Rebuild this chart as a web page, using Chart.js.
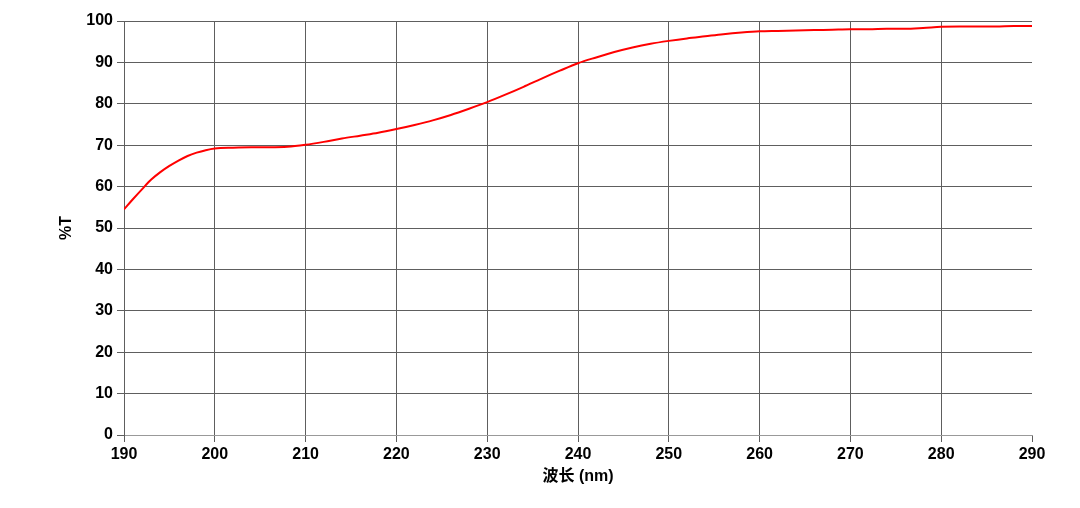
<!DOCTYPE html>
<html>
<head>
<meta charset="utf-8">
<script src="https://cdn.jsdelivr.net/npm/chart.js@4"></script>
<style>
html,body{margin:0;padding:0;background:#fff;}
#wrap{width:1080px;height:508px;position:relative;}
</style>
</head>
<body>
<div id="wrap"><canvas id="c" width="1080" height="508"></canvas></div>
<script>
const wavelengths = [190,191,192,193,194,195,196,197,198,199,200,202,204,206,208,210,212,214,216,218,220,222,224,226,228,230,232,234,236,238,240,242,244,246,248,250,252,254,256,258,260,262,264,266,268,270,272,274,276,278,280,282,284,286,288,290];
const transmittance = [54.5,57.0,59.4,61.7,63.5,65.0,66.3,67.4,68.2,68.8,69.2,69.4,69.5,69.5,69.6,70.1,70.8,71.6,72.3,73.0,73.9,74.9,76.0,77.3,78.8,80.4,82.2,84.1,86.1,88.0,89.8,91.2,92.5,93.6,94.5,95.2,95.8,96.3,96.8,97.2,97.5,97.6,97.7,97.8,97.9,98.0,98.0,98.1,98.1,98.3,98.6,98.7,98.7,98.7,98.8,98.8];
const xTitle = '波长 (nm)';
const yTitle = '%T';

const points = wavelengths.map((w,i)=>({x:w,y:transmittance[i]}));
const fontFam = '"Liberation Sans", Arial, "Noto Sans CJK SC", sans-serif';
const gridCol = '#5e5e5e';

new Chart(document.getElementById('c'), {
  type: 'line',
  data: { datasets: [{ data: points, borderColor: '#ff0000', borderWidth: 2, pointRadius: 0, cubicInterpolationMode: 'monotone', fill: false }] },
  options: {
    responsive: false, animation: false,
    layout: { padding: { left: 53, right: 48, top: 21, bottom: 18 } },
    plugins: { legend: { display: false }, tooltip: { enabled: false } },
    scales: {
      x: {
        type: 'linear', min: 190, max: 290,
        ticks: { stepSize: 10, color: '#000', padding: 3, font: { family: fontFam, size: 16, weight: 'bold' } },
        grid: { color: (c)=> (c.tick && c.tick.value === 290) ? 'rgba(0,0,0,0)' : gridCol, tickColor: gridCol, tickLength: 7, lineWidth: 1 },
        border: { display: true, color: '#999' },
        title: { display: true, text: xTitle, color: '#000', padding: { top: 0, bottom: 4 }, font: { family: fontFam, size: 16, weight: 'bold' } },
        afterFit: (s)=>{ s.height = 55; }
      },
      y: {
        min: 0, max: 100,
        ticks: { stepSize: 10, color: '#000', padding: 4, font: { family: fontFam, size: 16, weight: 'bold' } },
        grid: { color: gridCol, tickColor: gridCol, tickLength: 7, lineWidth: 1 },
        border: { display: true, color: gridCol },
        title: { display: true, text: yTitle, color: '#000', padding: { top: 4, bottom: 4 }, font: { family: fontFam, size: 16, weight: 'bold' } },
        afterFit: (s)=>{ s.width = 71; }
      }
    }
  }
});
</script>
</body>
</html>
